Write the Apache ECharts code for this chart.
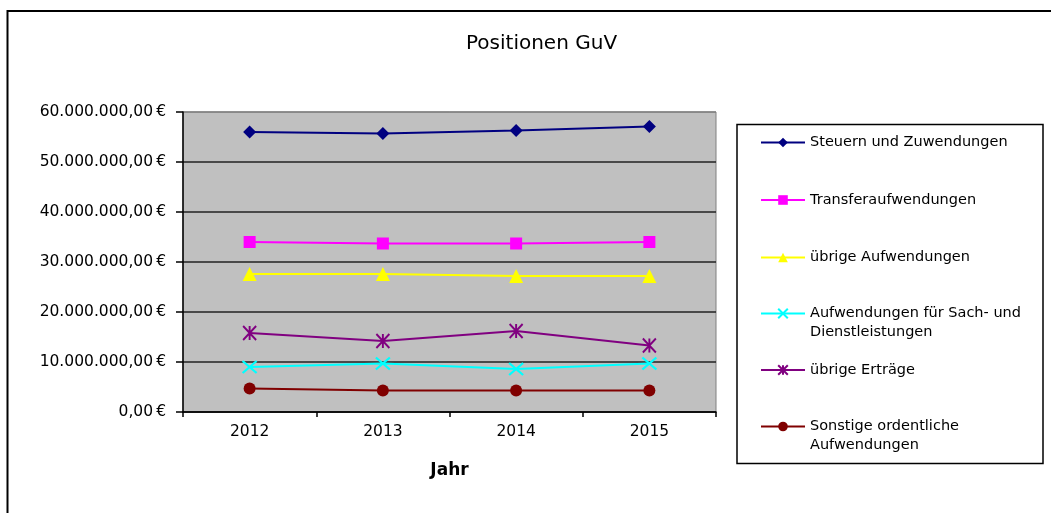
<!DOCTYPE html>
<html>
<head>
<meta charset="utf-8">
<script src="https://cdn.jsdelivr.net/npm/echarts@6/dist/echarts.min.js"></script>
<style>
  html, body { margin: 0; padding: 0; background: #fff; }
  #chart { width: 1051px; height: 513px; }
</style>
</head>
<body>
<div id="chart"></div>
<script>
// Daten (Euro)
const jahre = ["2012", "2013", "2014", "2015"];
const steuern = [56000000, 55700000, 56300000, 57100000];
const transfer = [34000000, 33700000, 33700000, 34000000];
const uebrigeAufw = [27600000, 27600000, 27200000, 27200000];
const sachDienst = [9000000, 9700000, 8600000, 9700000];
const uebrigeErtraege = [15800000, 14200000, 16200000, 13300000];
const sonstige = [4700000, 4300000, 4300000, 4300000];

const namen = [
  "Steuern und Zuwendungen",
  "Transferaufwendungen",
  "übrige Aufwendungen",
  "Aufwendungen für Sach- und\nDienstleistungen",
  "übrige Erträge",
  "Sonstige ordentliche\nAufwendungen",
];
const farben = ["#000080", "#ff00ff", "#ffff00", "#00ffff", "#800080", "#800000"];

const font = "DejaVu Sans";

// 60000000 -> "60.000.000,00 €"
function euro(v) {
  const s = String(Math.round(v)).replace(/\B(?=(\d{3})+(?!\d))/g, ".");
  return s + ",00\u2009€";
}

const chartDom = document.getElementById("chart");
const myChart = echarts.init(chartDom);

function serie(i, werte, symbol, size, stroke) {
  return {
    name: namen[i],
    type: "line",
    data: werte,
    symbol: symbol,
    symbolSize: size,
    showAllSymbol: true,
    lineStyle: { color: farben[i], width: 2 },
    itemStyle: {
      color: farben[i],
      borderColor: farben[i],
      borderWidth: stroke ? 2 : 0,
    },
    emphasis: { disabled: true },
  };
}

// Legenden einzeln, damit Abstände wie im Original sind.
// Zweizeilige Einträge bekommen eine leere erste Zeile, dann sitzt das Symbol
// auf Höhe der ersten Textzeile.
const legendTops = [133, 190.5, 248, 285, 360.5, 398];
const legends = namen.map((n, i) => {
  const zweiZeilig = n.indexOf("\n") >= 0;
  return {
    show: true,
    left: 760,
    top: legendTops[i],
    padding: 0,
    itemWidth: 44,
    itemHeight: 12,
    selectedMode: false,
    data: [n],
    formatter: (name) => (zweiZeilig ? "\n" + name : name),
    textStyle: { fontFamily: font, fontSize: 14.5, color: "#000", lineHeight: 19 },
  };
});

const option = {
  animation: false,
  backgroundColor: "#fff",
  title: {
    text: "Positionen GuV",
    left: 466,
    top: 34,
    padding: 0,
    textStyle: { fontFamily: font, fontSize: 20, fontWeight: "normal", color: "#000" },
  },
  legend: legends,
  grid: {
    left: 183,
    right: 335,
    top: 112,
    bottom: 101,
    show: true,
    backgroundColor: "#c0c0c0",
    borderColor: "#808080",
    borderWidth: 1,
  },
  xAxis: {
    type: "category",
    data: jahre,
    boundaryGap: true,
    name: "Jahr",
    nameLocation: "middle",
    nameGap: 50,
    nameTextStyle: { fontFamily: font, fontSize: 17, fontWeight: "bold", color: "#000" },
    axisLine: { lineStyle: { color: "#000", width: 1.5 } },
    axisTick: { show: true, length: 5, lineStyle: { color: "#000", width: 1.5 } },
    axisLabel: { fontFamily: font, fontSize: 15.5, color: "#000", margin: 12 },
  },
  yAxis: {
    type: "value",
    min: 0,
    max: 60000000,
    interval: 10000000,
    axisLine: { show: true, lineStyle: { color: "#000", width: 1.5 } },
    axisTick: { show: true, length: 7, lineStyle: { color: "#000", width: 1.5 } },
    axisLabel: { fontFamily: font, fontSize: 15.5, color: "#000", margin: 17, formatter: euro },
    splitLine: {
      lineStyle: {
        color: ["#222", "#222", "#222", "#222", "#222", "#222", "#808080"],
        width: 1.5,
      },
    },
  },
  graphic: [
    // Rahmen um das Diagramm
    {
      type: "rect",
      shape: { x: 7.5, y: 11, width: 1100, height: 600 },
      style: { fill: null, stroke: "#000", lineWidth: 2 },
      silent: true,
    },
    // Rahmen der Legende
    {
      type: "rect",
      shape: { x: 737, y: 124.5, width: 306, height: 339 },
      style: { fill: null, stroke: "#000", lineWidth: 1.5 },
      silent: true,
    },
  ],
  series: [
    serie(0, steuern, "diamond", 13, false),
    serie(1, transfer, "rect", 12, false),
    serie(2, uebrigeAufw, "triangle", 14, false),
    serie(3, sachDienst, "path://M0,0L12,10M12,0L0,10", [14, 12], true),
    serie(4, uebrigeErtraege, "path://M0,0L10,12M10,0L0,12M5,0L5,12", [13, 14], true),
    serie(5, sonstige, "circle", 12, false),
  ],
};

option && myChart.setOption(option);
</script>
</body>
</html>
